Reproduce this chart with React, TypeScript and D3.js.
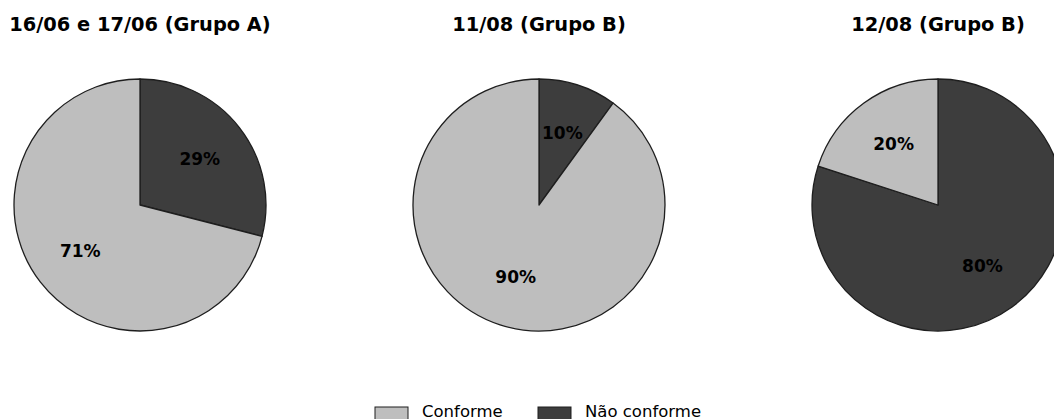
import React from "react";
import * as d3 from "d3";

const titles = ["16/06 e 17/06 (Grupo A)", "11/08 (Grupo B)", "12/08 (Grupo B)"];
const categories = ["Não conforme", "Conforme"];
const naoConforme = [29, 10, 80];
const conforme = [71, 90, 20];
const legendOrder = ["Conforme", "Não conforme"];

const colors: Record<string, string> = {
  "Conforme": "#bebebe",
  "Não conforme": "#3d3d3d",
};

const W = 1054;
const H = 419;
const centersX = [140, 539, 938];
const cy = 205;
const R = 126;

export default function App() {
  const pie = d3
    .pie<{ cat: string; v: number }>()
    .sort(null)
    .value((d) => d.v)
    .startAngle(0)
    .endAngle(2 * Math.PI);
  const arc = d3.arc<d3.PieArcDatum<{ cat: string; v: number }>>().innerRadius(0).outerRadius(R);
  const labelArc = d3
    .arc<d3.PieArcDatum<{ cat: string; v: number }>>()
    .innerRadius(R * 0.6)
    .outerRadius(R * 0.6);

  const font = "'DejaVu Sans', sans-serif";

  return (
    <svg
      width={W}
      height={H}
      style={{ position: "absolute", left: 0, top: 0, background: "#fff" }}
      fontFamily={font}
    >
      {titles.map((t, i) => {
        const data = [
          { cat: categories[0], v: naoConforme[i] },
          { cat: categories[1], v: conforme[i] },
        ];
        const arcs = pie(data);
        return (
          <g key={t}>
            <text x={centersX[i]} y={31} textAnchor="middle" fontSize={19.4} fontWeight="bold" fill="#000">
              {t}
            </text>
            <g transform={`translate(${centersX[i]},${cy})`}>
              {arcs.map((a) => (
                <path
                  key={a.data.cat}
                  d={arc(a) || ""}
                  fill={colors[a.data.cat]}
                  stroke="#1e1e1e"
                  strokeWidth={1.3}
                  strokeLinejoin="round"
                />
              ))}
              {arcs.map((a) => {
                const [lx, ly] = labelArc.centroid(a);
                return (
                  <text
                    key={a.data.cat + "l"}
                    x={lx}
                    y={ly}
                    textAnchor="middle"
                    dominantBaseline="central"
                    fontSize={17}
                    fontWeight="bold"
                    fill="#000"
                  >
                    {`${a.data.v}%`}
                  </text>
                );
              })}
            </g>
          </g>
        );
      })}
      <g>
        {legendOrder.map((c, i) => {
          const x0 = i === 0 ? 375 : 538;
          return (
            <g key={c}>
              <rect x={x0} y={407} width={33} height={13} fill={colors[c]} stroke="#1e1e1e" strokeWidth={1} />
              <text x={x0 + 47} y={417} fontSize={16.5} fill="#000">
                {c}
              </text>
            </g>
          );
        })}
      </g>
    </svg>
  );
}
